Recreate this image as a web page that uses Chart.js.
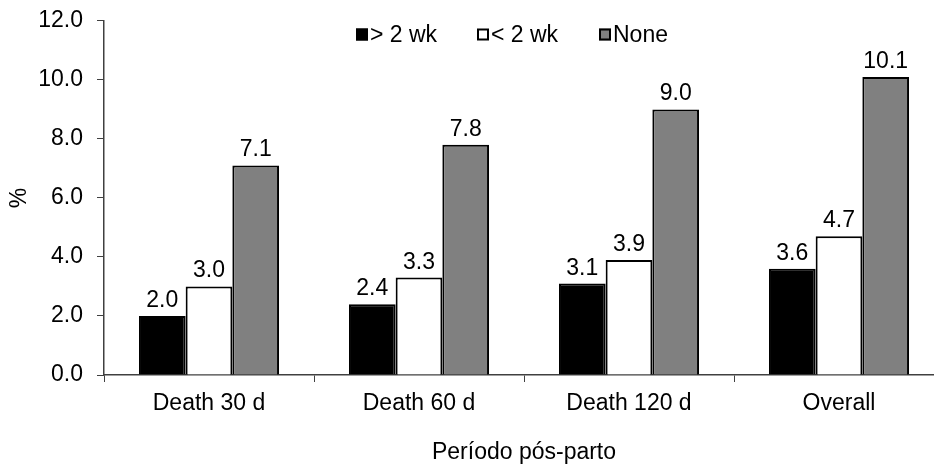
<!DOCTYPE html>
<html>
<head>
<meta charset="utf-8">
<script src="https://cdn.jsdelivr.net/npm/chart.js@4.4.1/dist/chart.umd.min.js"></script>
<style>
  html, body { margin: 0; padding: 0; background: #fff; overflow: hidden; }
  #wrap { width: 944px; height: 465px; }
</style>
</head>
<body>
<div id="wrap"><canvas id="chart"></canvas></div>
<script>
const categories = ['Death 30 d', 'Death 60 d', 'Death 120 d', 'Overall'];
const seriesNames = ['> 2 wk', '< 2 wk', 'None'];
const overTwoWeeks = [2.0, 2.4, 3.1, 3.6];
const underTwoWeeks = [3.0, 3.3, 3.9, 4.7];
const noneValues = [7.1, 7.8, 9.0, 10.1];
const yTicks = [0, 2, 4, 6, 8, 10, 12];

const FONT = 'Liberation Sans, Arial, sans-serif';
const FONT_SIZE = 23;
const fills = ['#000000', '#ffffff', '#808080'];

// value above each bar
const valueLabels = {
    id: 'valueLabels',
    afterDatasetsDraw(chart) {
        const ctx = chart.ctx;
        ctx.save();
        ctx.font = FONT_SIZE + 'px ' + FONT;
        ctx.fillStyle = '#000';
        ctx.textAlign = 'center';
        ctx.textBaseline = 'alphabetic';
        chart.data.datasets.forEach((ds, i) => {
            chart.getDatasetMeta(i).data.forEach((bar, j) => {
                ctx.fillText(ds.data[j].toFixed(1), bar.x, bar.y - 9);
            });
        });
        ctx.restore();
    }
};

// legend drawn inside the plot area, top centre
const insideLegend = {
    id: 'insideLegend',
    afterDraw(chart) {
        const ctx = chart.ctx;
        const starts = [356, 477, 599];
        const y = 34.5;
        ctx.save();
        ctx.font = FONT_SIZE + 'px ' + FONT;
        ctx.textBaseline = 'middle';
        ctx.textAlign = 'left';
        chart.data.datasets.forEach((ds, i) => {
            const x = starts[i];
            ctx.fillStyle = ds.backgroundColor;
            ctx.fillRect(x, y - 6, 12, 12);
            ctx.strokeStyle = '#000';
            ctx.lineWidth = 2;
            ctx.strokeRect(x + 1, y - 5, 10, 10);
            ctx.fillStyle = '#000';
            ctx.fillText(ds.label, x + 14, y + 1);
        });
        ctx.restore();
    }
};

new Chart(document.getElementById('chart'), {
    type: 'bar',
    data: {
        labels: categories,
        datasets: [overTwoWeeks, underTwoWeeks, noneValues].map((vals, i) => ({
            label: seriesNames[i],
            data: vals,
            backgroundColor: fills[i],
            borderColor: '#000',
            borderWidth: 2,
            categoryPercentage: 0.667,
            barPercentage: 1.0
        }))
    },
    options: {
        responsive: true,
        maintainAspectRatio: false,
        animation: false,
        layout: { padding: { top: 19, left: 0, right: 0, bottom: 0 } },
        plugins: {
            legend: { display: false },
            tooltip: { enabled: false }
        },
        scales: {
            x: {
                offset: true,
                grid: {
                    offset: true,
                    drawOnChartArea: false,
                    drawTicks: true,
                    tickLength: 7,
                    color: '#404040',
                    lineWidth: 1
                },
                border: { color: '#404040', width: 1.5 },
                ticks: {
                    color: '#000',
                    font: { family: FONT, size: FONT_SIZE },
                    padding: 8,
                    maxRotation: 0
                },
                title: {
                    display: true,
                    text: 'Período pós-parto',
                    color: '#000',
                    font: { family: FONT, size: FONT_SIZE, lineHeight: 1.1 },
                    padding: { top: 18, bottom: 0 }
                },
                afterFit(scale) { scale.height = 90; }
            },
            y: {
                min: 0,
                max: 12,
                afterBuildTicks(scale) {
                    scale.ticks = yTicks.map(v => ({ value: v }));
                },
                grid: {
                    drawOnChartArea: false,
                    drawTicks: true,
                    tickLength: 7,
                    color: '#404040'
                },
                border: { color: '#404040', width: 1.5 },
                ticks: {
                    color: '#000',
                    font: { family: FONT, size: FONT_SIZE, lineHeight: 0.6 },
                    padding: 14,
                    callback: v => Number(v).toFixed(1)
                },
                title: {
                    display: true,
                    text: '%',
                    color: '#000',
                    font: { family: FONT, size: FONT_SIZE },
                    padding: { top: 6, bottom: 0 }
                },
                afterFit(scale) { scale.width = 104; }
            }
        }
    },
    plugins: [valueLabels, insideLegend]
});
</script>
</body>
</html>
